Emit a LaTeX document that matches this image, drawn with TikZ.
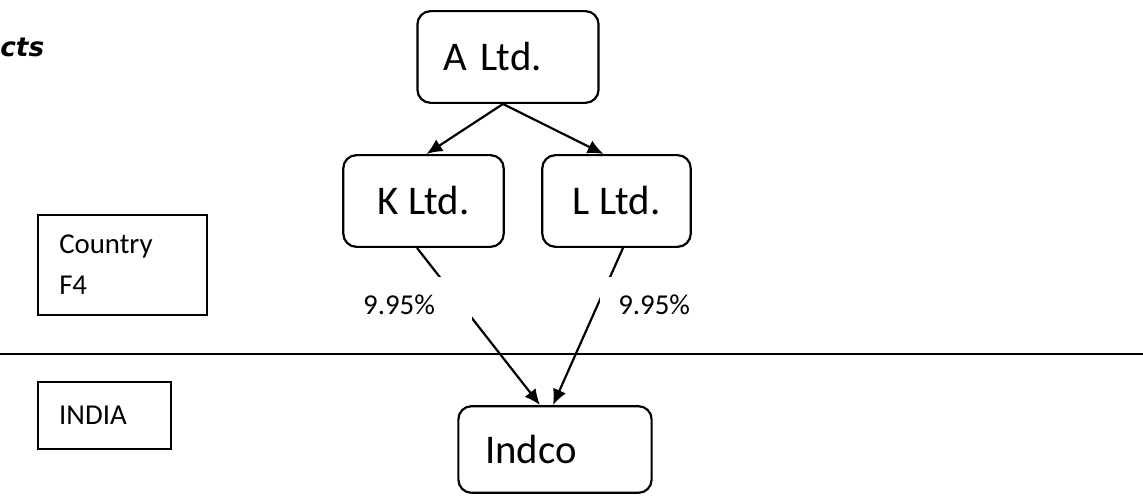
\documentclass[tikz,border=0pt]{standalone}
\usepackage{fontspec}
\setmainfont{Carlito}
\newfontfamily\headfont{DejaVu Sans}
\usetikzlibrary{arrows.meta, positioning, calc}

\tikzset{
  firm/.style={draw, line width=1.25pt, rounded corners=7.5pt, font=\fontsize{23.2}{28}\selectfont, minimum height=52.2pt, inner ysep=0pt},
  region/.style={draw, line width=1.25pt, font=\fontsize{16.4}{23.2}\selectfont, align=left, inner ysep=0pt},
  share/.style={fill=white, font=\fontsize{16.4}{20}\selectfont, align=left, inner ysep=10.2pt, anchor=north west},
  holds/.style={line width=1.25pt, -{Latex[length=9pt,width=8pt]}},
}

\begin{document}
\begin{tikzpicture}[x=0.02cm, y=-0.02cm]
\clip (0,0) rectangle (1143,496);
% heading
\node[anchor=base west, inner sep=0pt, font=\headfont\fontsize{15}{18}\selectfont\bfseries\itshape] (head) at (0,57) {cts};

% companies
\node[firm, text width=73.7pt, inner xsep=14.7pt, align=left] (altd) at (508,57) {A Ltd.};
\node[firm, minimum width=91.3pt] (kltd) at (423.5,201) {K Ltd.};
\node[firm, minimum width=84.5pt] (lltd) at (616.5,201) {L Ltd.};
\node[firm, text width=79.4pt, inner xsep=15.3pt, align=left, minimum height=49.3pt] (indco) at (555,449.5) {Indco};

% countries
\node[region, text width=72pt, inner xsep=11.9pt, minimum height=56.7pt] (cf4) at (122.5,265) {Country\\F4};
\node[region, text width=51.6pt, inner xsep=11.9pt, minimum height=38pt] (india) at (104.5,415.5) {INDIA};

% border line
\coordinate (bw) at (0,354);
\coordinate (be) at (1143,354);
\draw[line width=1.25pt] (bw) -- (be);

% holdings
\draw[holds] ($(altd.south)+(-5,0)$) -- ($(kltd.north)+(3,0)$);
\draw[holds] ($(altd.south)+(-5,0)$) -- ($(lltd.north)+(-13,0)$);
\draw[holds] ($(kltd.south)+(-6.5,0)$) -- ($(indco.north)+(-15,0)$);
\draw[holds] ($(lltd.south)+(6.5,0)$) -- ($(indco.north)+(-2,0)$);

% percentages
\node[share, text width=53.9pt, inner xsep=7.9pt] (kshare) at (349,277) {9.95\%};
\node[share, text width=45.4pt, inner xsep=10.2pt] (lshare) at (600,277) {9.95\%};
\end{tikzpicture}
\end{document}
